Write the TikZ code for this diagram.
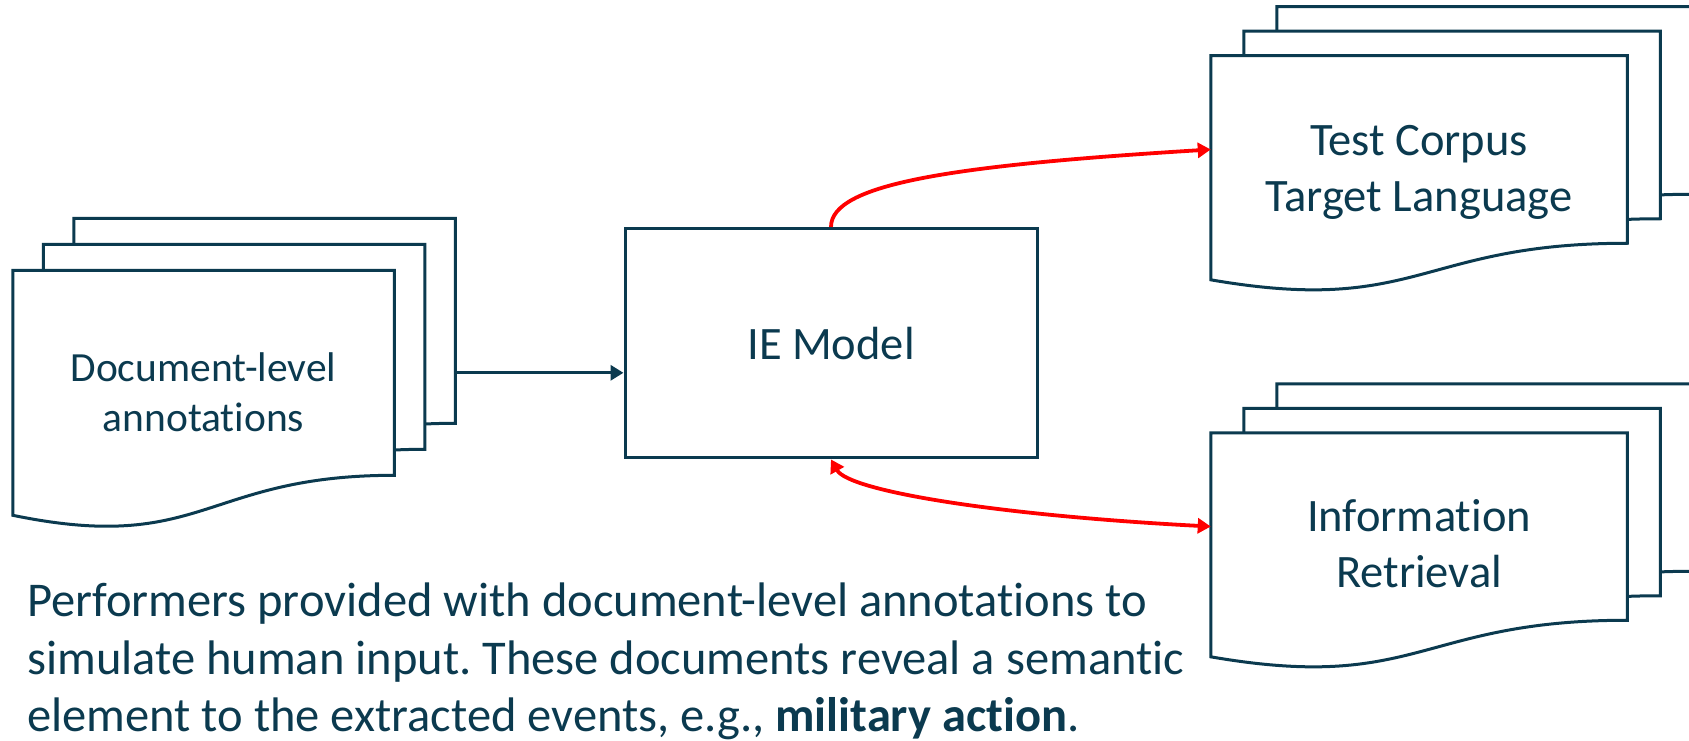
\documentclass[tikz,border=0pt]{standalone}
\usepackage{fontspec}
\setmainfont{Carlito}[Ligatures=NoCommon]
\usetikzlibrary{arrows.meta,calc,positioning}
\frenchspacing

\definecolor{ink}{HTML}{0B3A4F}

\tikzset{
  sheet/.style={draw=ink, fill=white, line width=3pt},
  leftpage/.style={minimum width=381.5pt, minimum height=205pt, inner sep=0pt, outer sep=0pt},
  rightpage/.style={minimum width=416.5pt, minimum height=187.5pt, inner sep=0pt, outer sep=0pt},
  pagetext/.style={text=ink, align=center, inner sep=0pt, font=\fontsize{46.5}{56}\selectfont},
  redlink/.style={draw=red, line width=3.8pt},
}

% one sheet of a stack, the lower edge is a wave
\newcommand{\docsheet}[2]{%
  \filldraw[sheet] ($(#1.south west)+(0,{0.195*#2})$)
    .. controls ($(#1.south)+(0,{0.387*#2})$) and (#1.south) .. (#1.south east)
    -- (#1.north east) -- (#1.north west) -- cycle;
}

\begin{document}
\begin{tikzpicture}[x=1pt, y=-1pt, >={Triangle[length=13pt,width=15pt]}]
\useasboundingbox (0,0) rectangle (1689,741);

% annotations (left stack)
\node[leftpage] (annot1) at (203.5,372.8) {};
\node[leftpage] (annot2) at ($(annot1)+(30.5,-26)$) {};
\node[leftpage] (annot3) at ($(annot2)+(30.5,-26)$) {};
\docsheet{annot3}{205}
\docsheet{annot2}{205}
\docsheet{annot1}{205}
\node[pagetext, font=\fontsize{41.5}{50}\selectfont] (annottext) at ($(annot1)+(0,19)$) {Document-level\\annotations};

% model
\node[draw=ink, line width=3pt, minimum width=412pt, minimum height=229.5pt, pagetext] (ie) at (831,343.2) {IE Model};

% test corpus stack
\node[rightpage] (corpus1) at (1419,149.5) {};
\node[rightpage] (corpus2) at ($(corpus1)+(33,-24.5)$) {};
\node[rightpage] (corpus3) at ($(corpus2)+(33,-24.5)$) {};
\docsheet{corpus3}{187.5}
\docsheet{corpus2}{187.5}
\docsheet{corpus1}{187.5}
\node[pagetext] (corpustext) at ($(corpus1)+(0,23)$) {Test Corpus\\Target Language};

% retrieval stack
\node[rightpage] (ir1) at (1419,526.5) {};
\node[rightpage] (ir2) at ($(ir1)+(33,-24.5)$) {};
\node[rightpage] (ir3) at ($(ir2)+(33,-24.5)$) {};
\docsheet{ir3}{187.5}
\docsheet{ir2}{187.5}
\docsheet{ir1}{187.5}
\node[pagetext] (irtext) at ($(ir1)+(0,17)$) {Information\\Retrieval};

% connectors
\draw[ink, line width=3.3pt, ->] (annot1.east -| annot3.east) -- (annot1.east -| ie.west);
\draw[redlink, ->] (ie.north) .. controls +(0,-43) and +(-260,16) .. (corpus1.west);
\draw[redlink, <->] (ie.south) .. controls +(18,32) and +(-210,-11) .. (ir1.west);

% note under the diagram
\node[anchor=north west, align=left, inner sep=0pt, text=ink, font=\fontsize{48.5}{57.5}\selectfont] (note) at (27,583)
  {Performers provided with document-level annotations to\\
   simulate human input. These documents reveal a semantic\\
   element to the extracted events, e.g., \textbf{military action}.};
\end{tikzpicture}
\end{document}
